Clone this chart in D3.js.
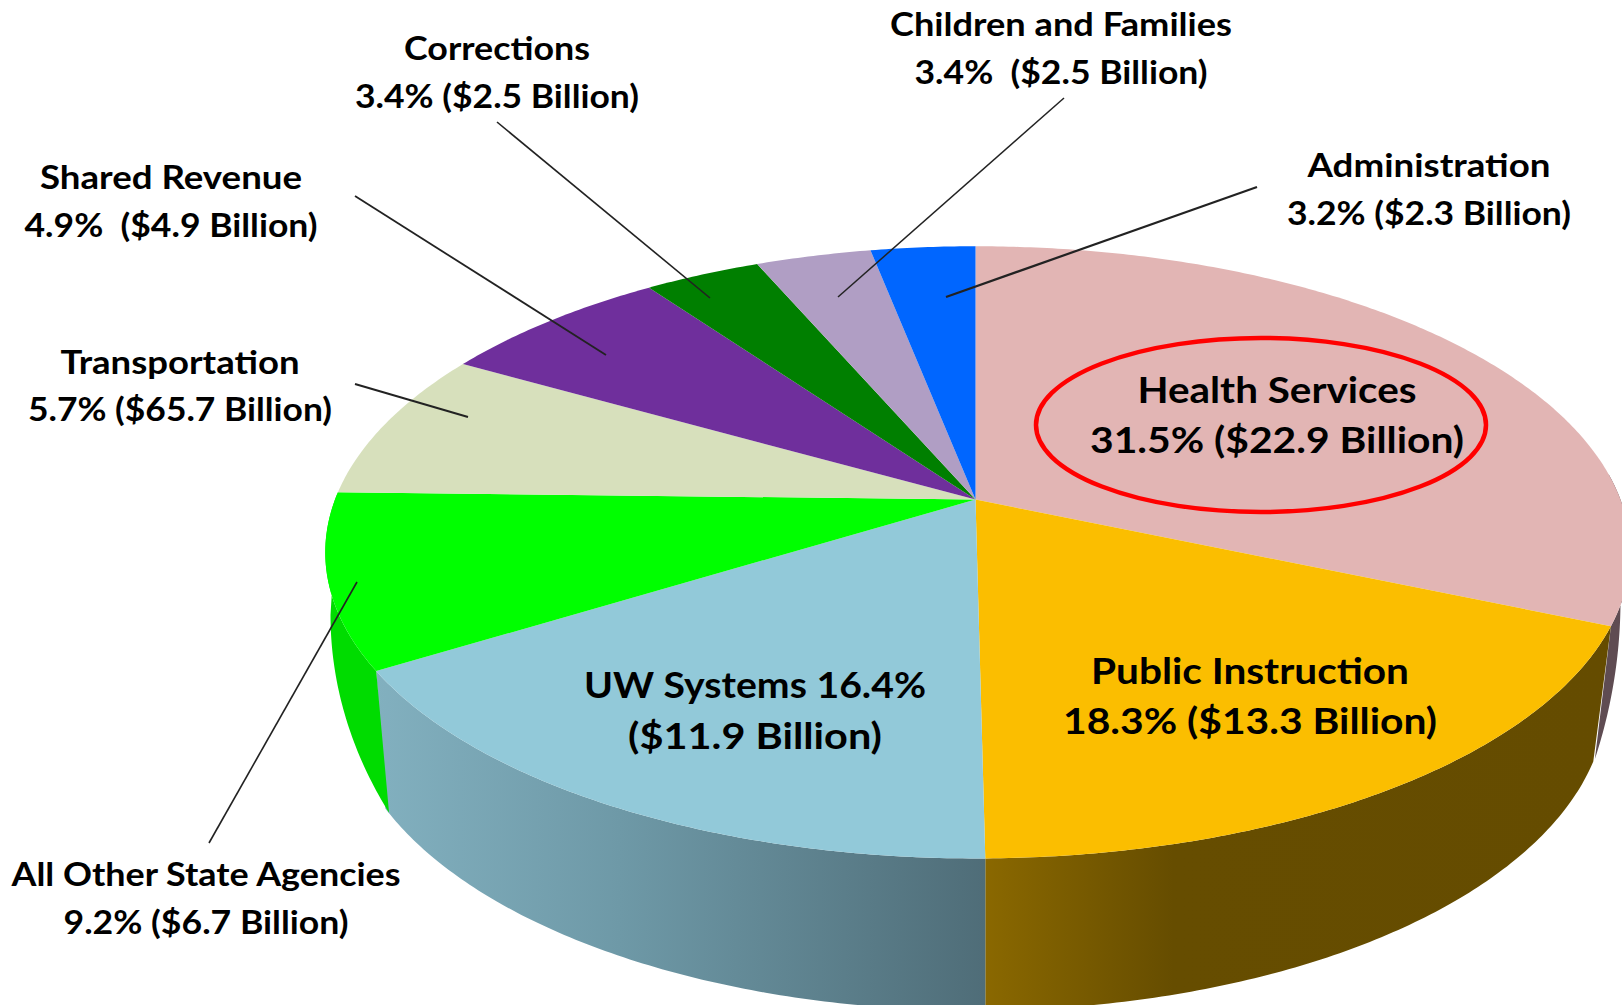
<!DOCTYPE html>
<html>
<head>
<meta charset="utf-8">
<script src="https://cdn.jsdelivr.net/npm/d3@7"></script>
<style>
  body { margin: 0; background: #fff; }
  text { font-family: Lato, "Open Sans", sans-serif; font-weight: 700; fill: #000; text-anchor: middle; white-space: pre; }
</style>
</head>
<body>
<svg id="chart"></svg>
<script>
const names = ['Health Services', 'Public Instruction', 'UW Systems', 'All Other State Agencies',
  'Transportation', 'Shared Revenue', 'Corrections', 'Children and Families', 'Administration'];
const shares = [31.5, 18.3, 16.4, 9.2, 7.85, 6.88, 3.41, 3.39, 3.07];
const topColors = ['#e2b5b4', '#fbbe00', '#92c9d9', '#00ff00', '#d7e0bc', '#6f2f9c', '#007f00', '#b09ec4', '#0066ff'];

// label text
const labelLine1 = ['Health Services', 'Public Instruction', 'UW Systems 16.4%', 'All Other State Agencies',
  'Transportation', 'Shared Revenue', 'Corrections', 'Children and Families', 'Administration'];
const labelLine2 = ['31.5% ($22.9 Billion)', '18.3% ($13.3 Billion)', '($11.9 Billion)', '9.2% ($6.7 Billion)',
  '5.7% ($65.7 Billion)', '4.9%  ($4.9 Billion)', '3.4% ($2.5 Billion)', '3.4%  ($2.5 Billion)', '3.2% ($2.3 Billion)'];

// layout of the annotations, page pixels
const labelX = [1277, 1250, 755, 206, 180, 171, 497, 1061, 1429];
const labelY = [403, 684, 698, 886, 374, 189, 60, 36, 177];
const labelGap = [50, 50, 51, 48, 47, 48, 48, 48, 48];
const labelSize = [36, 36, 36, 32, 32, 32, 32, 32, 32];
const line1Width = [279, 318, 342, 389, 239, 262, 186, 342, 243];
const line2Width = [374, 374, 254, 285, 304, 293, 284, 293, 284];
const leaders = [
  [497, 122, 710, 298], [355, 196, 606, 355], [355, 384, 468, 417],
  [1064, 98, 838, 297], [1257, 187, 946, 297], [357, 582, 209, 843]
];
const leaderWidths = [1.6, 1.8, 2, 1.5, 2.2, 1.6];

const width = 1622, height = 1005;
const svg = d3.select('#chart').attr('width', width).attr('height', height);
const defs = svg.append('defs');

// the disc is tilted with perspective, so a plain d3.arc won't do. Take a unit circle
// point and push it through a simple projective map, one for the top and one for the bottom
const topPlane = {cx: 975.5, cy: 499.6, a: 640.5, ar: 645, b: 297, k: 0.1723};
const botPlane = {cx: 975.5, cy: 632, a: 617, ar: 617, b: 299, k: 0.21};
// the bottom edge flares out where it meets the top at the far left and right
const rightFlare = {cx: 975.5, cy: 600, a: 645, ar: 645, b: 570, k: 0};
const leftFlare = {cx: 975.5, cy: 615, a: 645, ar: 645, b: 475, k: 0};

function project(plane, angle, r) {
  let u = Math.sin(angle) * r, v = -Math.cos(angle) * r;
  let den = 1 - plane.k * v;
  return [plane.cx + (u > 0 ? plane.ar : plane.a) * u / den, plane.cy + plane.b * v / den];
}

function edge(plane, a0, a1) {
  let n = Math.max(2, Math.ceil((a1 - a0) / 0.01));
  return d3.range(n + 1).map(i => project(plane, a0 + (a1 - a0) * i / n, 1));
}

const rad = d => d * Math.PI / 180;

const pie = d3.pie().sort(null).startAngle(0).endAngle(2 * Math.PI);
const slices = pie(shares);
const line = d3.line();

// wall shading
const wallStops = [
  [[0, '#5f4c52']],
  [[0, '#8a6800'], [0.3, '#664d00'], [1, '#654c00']],
  [[0, '#82b0bf'], [0.4, '#6e99a7'], [1, '#4f6d78']],
  [[0, '#00dc00']]
];
wallStops.forEach((stops, i) => {
  let grad = defs.append('linearGradient').attr('id', 'wall' + i);
  grad.selectAll('stop').data(stops).join('stop')
    .attr('offset', d => d[0]).attr('stop-color', d => d[1]);
});

function wallPath(d, i) {
  let top, bottom;
  if (i == 0) {
    top = edge(topPlane, rad(85), d.endAngle);
    bottom = edge(rightFlare, rad(90), rad(106.2));
  } else if (i == 3) {
    top = edge(topPlane, d.startAngle, d.endAngle);
    bottom = edge(leftFlare, rad(245.4), rad(270));
  } else {
    top = edge(topPlane, d.startAngle, d.endAngle);
    bottom = edge(botPlane, d.startAngle, d.endAngle);
  }
  return line(top.concat(bottom.reverse())) + 'Z';
}

// walls, only the front four slices show any
svg.append('g').selectAll('path')
  .data(slices.slice(0, 4))
  .join('path')
  .attr('d', wallPath)
  .attr('fill', (d, i) => `url(#wall${i})`);

// top face
svg.append('g').selectAll('path')
  .data(slices)
  .join('path')
  .attr('d', d => line([[topPlane.cx, topPlane.cy]].concat(edge(topPlane, d.startAngle, d.endAngle))) + 'Z')
  .attr('fill', (d, i) => topColors[i]);

// leader lines
svg.append('g').selectAll('line')
  .data(leaders)
  .join('line')
  .attr('x1', d => d[0]).attr('y1', d => d[1])
  .attr('x2', d => d[2]).attr('y2', d => d[3])
  .attr('stroke', '#222').attr('stroke-width', (d, i) => leaderWidths[i]);

// red ring round Health Services
svg.append('ellipse')
  .attr('cx', 1261).attr('cy', 425).attr('rx', 225).attr('ry', 87)
  .attr('fill', 'none').attr('stroke', '#ff0000').attr('stroke-width', 4.5);

// labels, stretched to the measured widths because Lato runs narrower than the original face
const labels = svg.append('g').selectAll('g')
  .data(names)
  .join('g')
  .attr('font-size', (d, i) => labelSize[i]);
labels.append('text')
  .attr('x', (d, i) => labelX[i]).attr('y', (d, i) => labelY[i])
  .attr('textLength', (d, i) => line1Width[i]).attr('lengthAdjust', 'spacingAndGlyphs')
  .text((d, i) => labelLine1[i]);
labels.append('text')
  .attr('x', (d, i) => labelX[i]).attr('y', (d, i) => labelY[i] + labelGap[i])
  .attr('textLength', (d, i) => line2Width[i]).attr('lengthAdjust', 'spacingAndGlyphs')
  .text((d, i) => labelLine2[i]);
</script>
</body>
</html>
